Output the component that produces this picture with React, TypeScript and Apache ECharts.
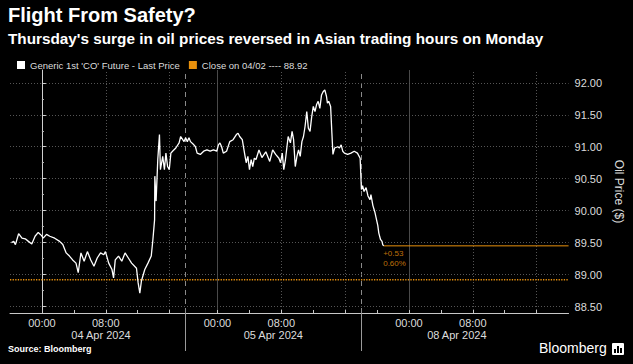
import React, { useEffect, useRef } from "react";
import * as echarts from "echarts";

// x = trading hours since 04 Apr 2024 00:00 (ET) on a session-compressed axis
const priceX = [
  -3.82, -3.53, -3.32, -2.92, -2.5, -2.09, -1.69, -1.27, -0.86, -0.46, -0.04, 0.16, 0.58, 0.98, 1.6, 2.22, 2.62,
  3.04, 3.45, 3.85, 4.27, 4.55, 4.89, 5.29, 5.7, 6.12, 6.52, 6.93, 7.35, 7.75, 7.96, 8.37, 8.78, 8.98, 9.19, 9.6,
  10.01, 10.42, 10.83, 11.24, 11.85, 12.06, 12.27, 12.47, 12.89, 13.29, 13.7, 13.91, 14.12, 14.15, 14.31, 14.52,
  14.73, 14.85, 15.14, 15.35, 15.54, 15.75, 15.96, 16.16, 16.37, 16.78, 17.19, 17.39, 17.81, 18.01, 18.22, 18.43,
  18.62, 19.04, 19.24, 19.45, 19.85, 20.27, 20.68, 21.08, 21.5, 21.91, 22.12, 22.31, 22.52, 22.73, 23.14, 23.54,
  23.96, 24.37, 24.58, 24.78, 25.11, 25.39, 25.6, 25.81, 26.01, 26.22, 26.42, 26.62, 26.83, 27.2, 27.57, 28.06,
  28.55, 28.92, 29.29, 29.7, 29.91, 30.12, 30.31, 30.52, 30.86, 31.14, 31.35, 31.54, 31.75, 31.96, 32.16, 32.37,
  32.58, 32.78, 32.98, 33.19, 33.39, 33.6, 33.81, 34.01, 34.22, 34.42, 34.62, 34.83, 35.04, 35.24, 35.45, 35.66,
  35.78, 35.94, 36.18, 36.34, 36.47, 36.68, 37.08, 37.29, 37.5, 37.7, 37.91, 38.31, 38.73, 39.14, 39.54, 39.88,
  40.04, 40.18, 40.37, 40.62, 40.86, 41.11, 41.23, 41.48, 41.72, 41.93, 42.09, 42.22, 42.43, 42.62, 42.71, 42.83,
];
const priceY = [
  89.5, 89.52, 89.47, 89.64, 89.57, 89.56, 89.52, 89.48, 89.6, 89.66, 89.61, 89.57, 89.63, 89.6, 89.57, 89.52, 89.47,
  89.34, 89.29, 89.23, 89.18, 89.03, 89.34, 89.21, 89.36, 89.23, 89.13, 89.26, 89.34, 89.31, 89.36, 89.18, 89.08,
  88.95, 89.23, 89.29, 89.21, 89.34, 89.26, 89.18, 89.1, 88.87, 88.71, 88.9, 89.08, 89.18, 89.29, 89.55, 89.86,
  90.54, 90.15, 90.8, 91.19, 90.64, 90.85, 90.64, 90.9, 90.69, 90.64, 90.9, 90.93, 90.98, 91.06, 91.16, 91.08,
  91.14, 91.08, 91.14, 91.08, 91.03, 91.0, 90.9, 90.88, 90.93, 90.95, 90.93, 90.95, 90.93, 91.03, 91.06, 91.0,
  90.9, 90.93, 91.08, 91.11, 91.19, 91.21, 91.16, 91.11, 90.9, 90.75, 90.85, 90.64, 90.8, 90.69, 90.82, 90.8,
  90.95, 90.83, 90.92, 90.77, 90.95, 90.88, 90.82, 90.75, 90.9, 90.64, 90.8, 91.16, 91.06, 91.24, 91.11, 90.69,
  90.85, 90.95, 90.85, 91.08, 91.16, 91.32, 91.55, 91.29, 91.24, 91.47, 91.63, 91.55, 91.66, 91.71, 91.6, 91.81,
  91.86, 91.89, 91.79, 91.68, 91.71, 91.63, 91.21, 90.88, 90.98, 91.0, 90.98, 91.03, 90.93, 90.9, 90.88, 90.9,
  90.93, 90.9, 90.82, 90.33, 90.39, 90.3, 90.36, 90.23, 90.17, 90.25, 90.08, 89.98, 89.86, 89.77, 89.65, 89.55,
  89.52, 89.47, 89.45,
];
const closeValue = 88.92;
const closeLabel = "Close on 04/02";
const priceName = "Generic 1st 'CO' Future - Last Price";

const xMin = -4;
const xMax = 66;
const yMin = 88.4;
const yMax = 92.2;
const yTicks = [88.5, 89.0, 89.5, 90.0, 90.5, 91.0, 91.5, 92.0];
const hourTicks = [0, 4, 8, 12, 16, 22, 26, 30, 34, 38, 42, 46, 50, 54, 58, 62];
const timeLabelPos = [0, 8, 22, 30, 46, 54];
const timeLabels = ["00:00", "08:00", "00:00", "08:00", "00:00", "08:00"];
const midnightLines = [0, 22, 46];
const dottedLines = [8, 16, 30, 38, 54, 62];
const sessionBreaks = [18, 40];
const dateLabelPos = [7.4, 29, 52];
const dateLabels = ["04 Apr 2024", "05 Apr 2024", "08 Apr 2024"];

const ORANGE = "#e8900c";
const FONT = '"Liberation Sans", Arial, sans-serif';

export default function App() {
  const ref = useRef<HTMLDivElement>(null);
  useEffect(() => {
    if (!ref.current) return;
    document.body.style.margin = "0";
    const chart = echarts.init(ref.current, undefined, { renderer: "svg" });
    const priceData = priceX.map((x, i) => [x, priceY[i]]);
    const last = priceData[priceData.length - 1];
    const change = last[1] - closeValue;
    const pct = (change / closeValue) * 100;
    const minorTicks = yTicks.slice(1).map((v) => v - 0.25);

    const gridLines: any[] = [
      ...midnightLines.map((v) => ({ xAxis: v, lineStyle: { type: "solid", color: "#4a4a4a", width: 1 } })),
      ...dottedLines.map((v) => ({ xAxis: v, lineStyle: { type: [1, 2], color: "#555", width: 1 } })),
      ...sessionBreaks.map((v) => ({ xAxis: v, lineStyle: { type: [5, 4], color: "#8a8a8a", width: 1 } })),
      ...yTicks.map((v) => ({ yAxis: v, lineStyle: { type: [1, 2], color: "#555", width: 1 } })),
    ];

    const option: any = {
      animation: false,
      backgroundColor: "#000",
      textStyle: { fontFamily: FONT },
      grid: { left: 10, right: 56, top: 70, bottom: 51 },
      legend: {
        left: 12,
        top: 55,
        itemWidth: 8,
        itemHeight: 8,
        itemGap: 9,
        textStyle: { color: "#dcdcdc", fontSize: 9.5, fontFamily: FONT },
        data: [
          { name: priceName, icon: "rect", itemStyle: { color: "#fff" } },
          { name: `${closeLabel} ---- ${closeValue.toFixed(2)}`, icon: "rect", itemStyle: { color: ORANGE } },
        ],
      },
      xAxis: [
        {
          type: "value",
          min: xMin,
          max: xMax,
          position: "bottom",
          axisLine: { show: true, lineStyle: { color: "#c8c8c8", width: 1 } },
          axisTick: { show: true, customValues: hourTicks, inside: true, length: 3, lineStyle: { color: "#c8c8c8" } },
          axisLabel: {
            customValues: timeLabelPos,
            formatter: (v: number) => timeLabels[timeLabelPos.indexOf(v)] ?? "",
            color: "#dcdcdc",
            fontSize: 11,
            margin: 4,
            fontFamily: FONT,
          },
          splitLine: { show: false },
        },
        {
          type: "value",
          min: xMin,
          max: xMax,
          position: "bottom",
          axisLine: { show: false },
          axisTick: { show: true, customValues: sessionBreaks, length: 38, lineStyle: { color: "#9a9a9a" } },
          axisLabel: {
            customValues: dateLabelPos,
            formatter: (v: number) => dateLabels[dateLabelPos.indexOf(v)] ?? "",
            color: "#dcdcdc",
            fontSize: 11,
            margin: 16,
            fontFamily: FONT,
          },
          splitLine: { show: false },
        },
      ],
      yAxis: [
        {
          type: "value",
          position: "right",
          min: yMin,
          max: yMax,
          axisLine: { show: true, lineStyle: { color: "#d0d0d0", width: 1 } },
          axisTick: { show: true, customValues: yTicks, length: 4, lineStyle: { color: "#d0d0d0" } },
          axisLabel: {
            customValues: yTicks,
            formatter: (v: number) => v.toFixed(2),
            color: "#dcdcdc",
            fontSize: 11,
            margin: 6,
            fontFamily: FONT,
          },
          splitLine: { show: false },
          name: "Oil Price ($)",
          nameLocation: "middle",
          nameRotate: -90,
          nameGap: 42,
          nameTextStyle: { color: "#dcdcdc", fontSize: 12, fontFamily: FONT },
        },
        {
          type: "value",
          position: "right",
          min: yMin,
          max: yMax,
          axisLine: { show: false },
          axisTick: { show: true, customValues: minorTicks, length: 2, lineStyle: { color: "#bbb" } },
          axisLabel: { show: false },
          splitLine: { show: false },
        },
      ],
      series: [
        {
          name: `${closeLabel} ---- ${closeValue.toFixed(2)}`,
          type: "line",
          data: [
            [xMin, closeValue],
            [xMax, closeValue],
          ],
          showSymbol: false,
          color: ORANGE,
          lineStyle: { color: ORANGE, width: 1.3, type: [1.3, 1.3] },
          z: 1,
          silent: true,
          markLine: { silent: true, symbol: ["none", "none"], label: { show: false }, data: gridLines, z: 0 },
        },
        {
          name: "last",
          type: "line",
          data: [
            [last[0], last[1]],
            [xMax, last[1]],
          ],
          showSymbol: false,
          color: ORANGE,
          lineStyle: { color: ORANGE, width: 1 },
          z: 2,
          silent: true,
        },
        {
          name: priceName,
          type: "line",
          data: priceData,
          showSymbol: false,
          color: "#fff",
          lineStyle: { color: "#ffffff", width: 1.3 },
          z: 3,
          silent: true,
        },
        {
          name: "change",
          type: "scatter",
          data: [[last[0], last[1]]],
          symbolSize: 1,
          itemStyle: { color: "rgba(0,0,0,0)" },
          silent: true,
          label: {
            show: true,
            position: [0, 3],
            align: "left",
            verticalAlign: "top",
            formatter: () => `${change >= 0 ? "+" : ""}${change.toFixed(2)}\n${pct.toFixed(2)}%`,
            color: ORANGE,
            fontSize: 8,
            lineHeight: 10,
            fontFamily: FONT,
          },
          z: 4,
        },
      ],
      graphic: [
        {
          type: "text",
          left: 8,
          top: 5,
          style: { text: "Flight From Safety?", fill: "#fff", font: `bold 20px ${FONT}` },
        },
        {
          type: "text",
          left: 8,
          top: 31,
          style: {
            text: "Thursday's surge in oil prices reversed in Asian trading hours on Monday",
            fill: "#fff",
            font: `bold 15.3px ${FONT}`,
          },
        },
        {
          type: "text",
          left: 8,
          top: 344,
          style: { text: "Source: Bloomberg", fill: "#fff", font: `bold 9px ${FONT}` },
        },
        {
          type: "text",
          left: 539,
          top: 341,
          style: { text: "Bloomberg", fill: "#fff", font: `14px ${FONT}` },
        },
        {
          type: "group",
          left: 612,
          top: 343,
          children: [
            { type: "rect", shape: { x: 0, y: 0, width: 12, height: 12, r: 1 }, style: { fill: "#fff" } },
            { type: "rect", shape: { x: 2, y: 6, width: 2, height: 4 }, style: { fill: "#000" } },
            { type: "rect", shape: { x: 5, y: 3, width: 2, height: 7 }, style: { fill: "#000" } },
            { type: "rect", shape: { x: 8, y: 5, width: 2, height: 5 }, style: { fill: "#000" } },
          ],
        },
      ],
    };
    chart.setOption(option);
    return () => chart.dispose();
  }, []);
  return (
    <div
      ref={ref}
      style={{ position: "fixed", left: 0, top: 0, width: 633, height: 364, background: "#000" }}
    />
  );
}
